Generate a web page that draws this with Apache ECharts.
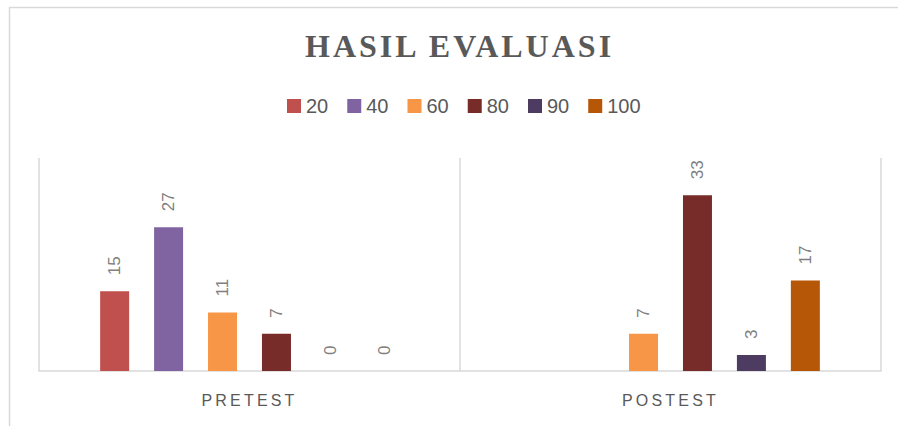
<!DOCTYPE html>
<html>
<head>
<meta charset="utf-8">
<script src="https://cdn.jsdelivr.net/npm/echarts@6/dist/echarts.min.js"></script>
<style>
  html, body { margin: 0; padding: 0; background: #fff; }
  #chart { width: 898px; height: 426px; }
  /* letter spacing for title and category labels (svg renderer) */
  #chart text[style*="Liberation Serif"] { letter-spacing: 3px; }
  #chart text[style*="16px"] { letter-spacing: 3.2px; }
</style>
</head>
<body>
<div id="chart"></div>
<script>
const categories = ['PRETEST', 'POSTEST']
const seriesNames = ['20', '40', '60', '80', '90', '100']
const seriesColors = ['#c0504d', '#8064a2', '#f79646', '#772c2a', '#4d3b62', '#b65708']
const values20 = [15, '-']
const values40 = [27, '-']
const values60 = [11, 7]
const values80 = [7, 33]
const values90 = [0, 3]
const values100 = [0, 17]
const allValues = [values20, values40, values60, values80, values90, values100]

const series = seriesNames.map((name, i) => ({
  name: name,
  type: 'bar',
  data: allValues[i],
  color: seriesColors[i],
  barWidth: 29,
  barGap: '86%',
  label: {
    show: true,
    position: 'top',
    rotate: 90,
    align: 'left',
    verticalAlign: 'middle',
    distance: 16,
    fontFamily: 'Liberation Sans',
    fontSize: 17,
    color: '#808080',
  },
}))

const option = {
  animation: false,
  title: {
    text: 'HASIL EVALUASI',
    left: 300,
    top: 25,
    textStyle: {
      fontFamily: 'Liberation Serif',
      fontWeight: 'bold',
      fontSize: 32,
      color: '#595959',
    },
  },
  legend: {
    top: 91,
    left: 282,
    icon: 'rect',
    itemWidth: 14,
    itemHeight: 14,
    itemGap: 19,
    textStyle: {
      fontFamily: 'Liberation Sans',
      fontSize: 20,
      color: '#595959',
    },
  },
  grid: {
    left: 39,
    right: 17,
    top: 158,
    bottom: 55,
  },
  xAxis: {
    type: 'category',
    data: categories,
    axisLine: { lineStyle: { color: '#d9d9d9', width: 1.5 } },
    axisTick: { show: false },
    splitLine: { show: true, lineStyle: { color: '#d9d9d9', width: 1.5 } },
    axisLabel: {
      margin: 21,
      fontFamily: 'Liberation Sans',
      fontSize: 16,
      color: '#595959',
    },
  },
  yAxis: {
    type: 'value',
    min: 0,
    max: 40,
    show: false,
  },
  graphic: [{
    type: 'rect',
    z: -1,
    shape: { x: 9.5, y: 7.5, width: 950, height: 500 },
    style: { fill: 'none', stroke: '#d9d9d9', lineWidth: 1.5 },
  }],
  series: series,
}

const chart = echarts.init(document.getElementById('chart'), null, { renderer: 'svg' })
chart.setOption(option)
</script>
</body>
</html>
